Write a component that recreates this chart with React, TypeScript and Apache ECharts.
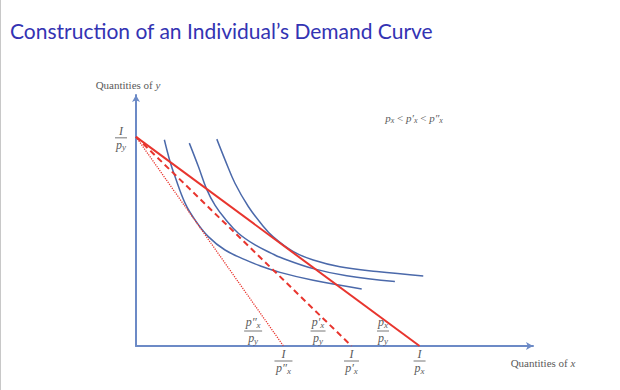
import React, { useEffect, useRef } from 'react';
import * as echarts from 'echarts';

const TITLE = "Construction of an Individual\u2019s Demand Curve";
const Y_AXIS_NAME = 'Quantities of {i|y}';
const X_AXIS_NAME = 'Quantities of {i|x}';

// Budget: I/p_y on the y-axis, and I/p_x intercepts for the three prices
const incomeOverPy = 10;
const xIntercepts = [5.2, 7.6, 10]; // I/p''x, I/p'x, I/px
const pricePrimes = [2, 1, 0]; // p''x, p'x, px
// where the slope labels (p_x / p_y) sit along the x-axis
const slopeLabelX = [4.13, 6.42, 8.71];

// Indifference curves
const curve1 = [
  [1.0, 9.86], [1.2, 8.82], [1.375, 8.1], [1.73, 6.83], [2.08, 6.03], [2.55, 5.23],
  [3.14, 4.59], [3.84, 4.13], [4.37, 3.84], [5.08, 3.52], [6.25, 3.14], [7.96, 2.73],
];
const curve2 = [
  [1.88, 9.7], [2.2, 8.58], [2.49, 7.5], [2.79, 6.72], [3.14, 6.08], [3.61, 5.39],
  [4.2, 4.83], [4.78, 4.43], [5.08, 4.24], [6.25, 3.7], [7.43, 3.36], [9.13, 3.08],
];
const curve3 = [
  [2.85, 9.89], [3.14, 8.9], [3.49, 7.78], [3.96, 6.67], [4.43, 5.82], [4.84, 5.22],
  [5.55, 4.51], [6.25, 4.11], [7.19, 3.79], [8.49, 3.56], [10.13, 3.35],
];

const SERIF = '"Liberation Serif", "DejaVu Serif", serif';
const TXT = '#5a5a5a';
const BLUE_AXIS = '#6C8AC6';
const BLUE_CURVE = '#4B69AA';
const RED = '#E8352E';

function makeRich(size: number, sub: number, key: 'fill' | 'color') {
  return {
    i: { fontFamily: SERIF, fontStyle: 'italic', fontSize: size, [key]: TXT, lineHeight: size + 2 },
    r: { fontFamily: SERIF, fontSize: size, [key]: TXT, lineHeight: size + 2 },
    s: { fontFamily: SERIF, fontStyle: 'italic', fontSize: sub, [key]: TXT, lineHeight: sub - 2, verticalAlign: 'bottom' },
  };
}
const rich = makeRich(12, 9, 'fill');

const price = (primes: number) =>
  primes > 0 ? `{i|p${primes === 2 ? '\u2033' : '\u2032'}}{s|x}` : '{i|p}{s|x}';
const PY = '{i|p}{s|y}';

function fractionItem(cx: number, cy: number, num: string, den: string, w: number) {
  const numHasSub = num.indexOf('{s|') >= 0;
  return {
    type: 'group',
    x: cx,
    y: cy,
    children: [
      { type: 'text', x: 0, y: numHasSub ? -9 : -7, style: { text: num, rich, align: 'center', verticalAlign: 'middle' } },
      { type: 'line', shape: { x1: -w / 2, y1: 0, x2: w / 2, y2: 0 }, style: { stroke: '#777', lineWidth: 1 } },
      { type: 'text', x: 0, y: 7, style: { text: den, rich, align: 'center', verticalAlign: 'middle' } },
    ],
  };
}

export default function App() {
  const ref = useRef<HTMLDivElement>(null);
  useEffect(() => {
    if (!ref.current) return;
    const chart = echarts.init(ref.current, null, { renderer: 'svg' });
    const option: any = {
      animation: false,
      backgroundColor: '#ffffff',
      title: {
        text: TITLE,
        left: 5,
        top: 15,
        textStyle: { color: '#3333B3', fontSize: 21, fontWeight: 'normal', fontFamily: 'Lato, "Open Sans", sans-serif' },
      },
      grid: { left: 136, top: 95, width: 397, height: 251, outerBoundsMode: 'none' },
      xAxis: {
        type: 'value', min: 0, max: 14,
        axisLine: { lineStyle: { color: BLUE_AXIS, width: 2 }, symbol: ['none', 'arrow'], symbolSize: [6, 7] },
        axisTick: { show: false }, axisLabel: { show: false }, splitLine: { show: false },
      },
      yAxis: {
        type: 'value', min: 0, max: 12,
        axisLine: { lineStyle: { color: BLUE_AXIS, width: 2 }, symbol: ['none', 'arrow'], symbolSize: [6, 7] },
        axisTick: { show: false }, axisLabel: { show: false }, splitLine: { show: false },
      },
      graphic: [
        { type: 'rect', left: 0, top: 0, shape: { width: 1, height: 390 }, style: { fill: '#c8c8c8' } },
        {
          type: 'text', x: 128, y: 85,
          style: { text: Y_AXIS_NAME, rich: makeRich(11, 8, 'color') as any, fontFamily: SERIF, fontSize: 11, fill: TXT, align: 'center', verticalAlign: 'middle' },
        },
        {
          type: 'text', x: 543, y: 363,
          style: { text: X_AXIS_NAME, rich: makeRich(11, 8, 'color') as any, fontFamily: SERIF, fontSize: 11, fill: TXT, align: 'center', verticalAlign: 'middle' },
        },
        {
          type: 'text', x: 414, y: 118,
          style: {
            text: `${price(0)}{r| < }${price(1)}{r| < }${price(2)}`,
            rich: makeRich(11, 8, 'color') as any,
            fontSize: 11, fill: TXT, align: 'center', verticalAlign: 'middle',
          },
        },
      ],
      series: [
        {
          type: 'line', data: [[0, incomeOverPy], [xIntercepts[2], 0]], symbol: 'none',
          lineStyle: { color: RED, width: 2 }, z: 3,
        },
        {
          type: 'line', data: [[0, incomeOverPy], [xIntercepts[1], 0]], symbol: 'none',
          lineStyle: { color: RED, width: 2, type: [6, 4] }, z: 3,
        },
        {
          type: 'line', data: [[0, incomeOverPy], [xIntercepts[0], 0]], symbol: 'none',
          lineStyle: { color: RED, width: 1.3, type: [1.2, 1.2] }, z: 3,
        },
        ...[curve1, curve2, curve3].map((c) => ({
          type: 'line', data: c, symbol: 'none', smooth: 0.4,
          lineStyle: { color: BLUE_CURVE, width: 1.5 }, z: 2,
        })),
        {
          type: 'custom', coordinateSystem: 'cartesian2d', clip: false, silent: true,
          data: xIntercepts.map((x) => [x, 0]),
          renderItem: (params: any, api: any) => {
            const p = api.coord([api.value(0), api.value(1)]);
            const primes = pricePrimes[params.dataIndex];
            return fractionItem(p[0], p[1] + 15, '{i|I}', price(primes), 12 + 3 * primes);
          },
        },
        {
          type: 'custom', coordinateSystem: 'cartesian2d', clip: false, silent: true,
          data: slopeLabelX.map((x) => [x, 0]),
          renderItem: (params: any, api: any) => {
            const p = api.coord([api.value(0), api.value(1)]);
            const primes = pricePrimes[params.dataIndex];
            return fractionItem(p[0], p[1] - 15, price(primes), PY, 12 + 3 * primes);
          },
        },
        {
          type: 'custom', coordinateSystem: 'cartesian2d', clip: false, silent: true,
          data: [[0, incomeOverPy]],
          renderItem: (params: any, api: any) => {
            const p = api.coord([api.value(0), api.value(1)]);
            return fractionItem(p[0] - 15, p[1] + 1, '{i|I}', PY, 12);
          },
        },
      ],
    };
    chart.setOption(option);
    return () => chart.dispose();
  }, []);
  return (
    <div
      ref={ref}
      style={{ position: 'fixed', left: 0, top: 0, width: 620, height: 390, background: '#fff' }}
    />
  );
}
